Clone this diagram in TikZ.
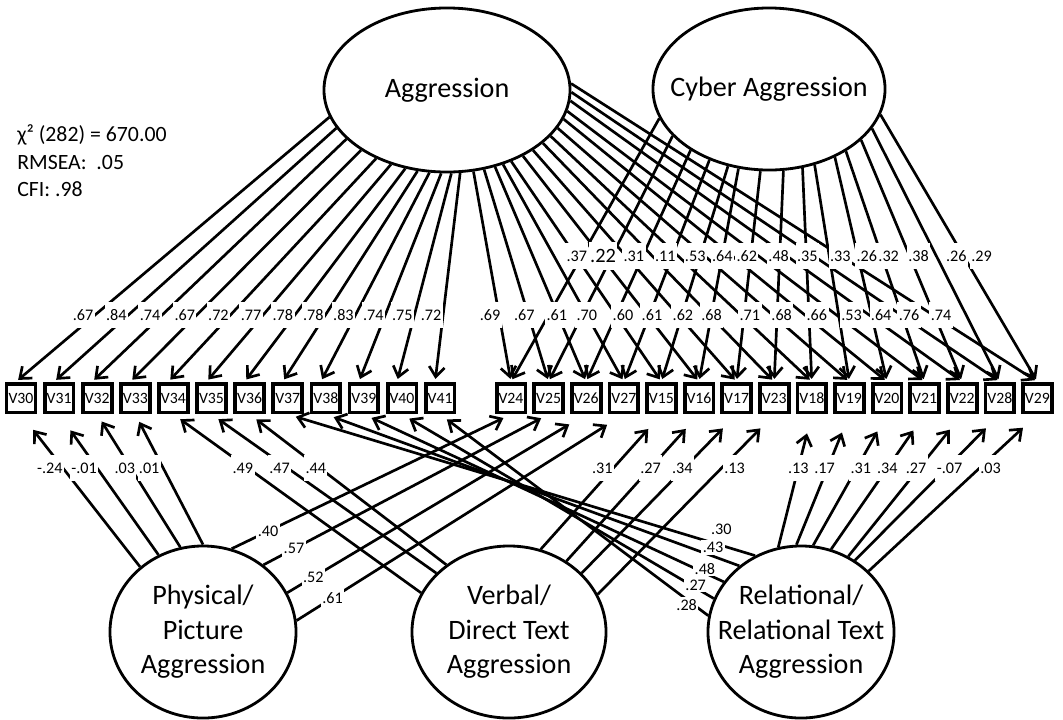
\documentclass[tikz,border=0pt]{standalone}
\usepackage{fontspec}
\setmainfont{Carlito}
\usetikzlibrary{shapes.geometric,arrows.meta,calc}
\pgfdeclarelayer{wires}
\pgfsetlayers{wires,main}

% path whose value sits where it crosses the horizontal row y=#3
\newcommand\rowlink[5]{%
  \draw[conn,#5] let \p1=(#1), \p2=(#2), \p3=(0,#3),
    \n1={((\y3)-(\y1))/((\y2)-(\y1))} in
    (\p1) -- coordinate[pos=\n1] (#4) (\p2);}
% path whose value sits at a given fraction #3 of its length
\newcommand\poslink[5]{%
  \draw[conn,#5] (#1) -- coordinate[pos=#3] (#4) (#2);}

% angle on factor / indicator / loading / horizontal offset of the value (px)
\newcommand\aggleft{193/30/.67/-12,199/31/.84/-12,206/32/.74/-12,215/33/.67/-12,224/34/.72/-12,233/35/.77/-12,242/36/.78/-12,250/37/.78/-12,258/38/.83/-12,266/39/.74/-12,273/40/.75/-12,279/41/.72/-12}
\newcommand\aggright{288/24/.69/-9,295/25/.67/-4,302/26/.61/-1,307/27/.70/0,312/15/.60/7,319/16/.61/5,325/17/.62/5,331/23/.68/2,336/18/.71/9,341/19/.68/9,346/20/.66/12,350/21/.53/15,355/22/.64/12,359/28/.76/8,3/29/.74/8}
\newcommand\cybright{195/24/.37/-5,206/25/{\fontsize{14.5}{15}\selectfont .22}/-9,218/26/.31/-9,230/27/.11/-7,242/15/.53/-5,249/16/.64/0,264/17/.62/-4,280/23/.48/-1,293/18/.35/1,301/19/.33/11,314/20/.26/9,321/21/.32/7,331/22/.38/9,339/28/.26/20,347/29/.29/18}
\newcommand\phyleft{134/30/-.24/14pt/-13,120/31/-.01/14pt/-13,105/32/.03/6pt/-6,90/33/.01/6pt/-14}
\newcommand\phyright{71/24/.40/0.13/6pt,48/25/.57/0.107/6pt,25/26/.52/0.087/14pt,7/27/.61/0.11/14pt}
\newcommand\verleft{156/34/.49/-5,141/35/.47/-8,133/36/.44/-4}
\newcommand\verright{69/15/.31/-11,51/16/.27/0,39/17/.34/-2,23/23/.13/13}
\newcommand\relleft{121/37/.30/0.081/4/-15,133/38/.43/0.073/4/-7,147/39/.48/0.066/5/-2,159/40/.27/0.074/5/0,170/41/.28/0.099/5/9}
\newcommand\relright{105/18/.13/0,93/19/.17/-3,82/20/.31/4,70/21/.34/0,58/22/.27/-3,53/28/-.07/3,42/29/.03/11}

\begin{document}
\begin{tikzpicture}[x=0.025cm,y=-0.025cm,
  latent/.style={draw,ellipse,line width=2pt,fill=white,inner sep=0pt},
  lattext/.style={align=center,inner sep=0pt,font=\fontsize{20}{24.5}\selectfont},
  obs/.style={draw,line width=2.7pt,fill=white,minimum width=0.72cm,minimum height=0.72cm,inner sep=0pt,font=\fontsize{11.2}{12}\selectfont},
  conn/.style={line width=1.9pt,-{Straight Barb[length=7pt,width=11pt]}},
  coef/.style={fill=white,inner xsep=1pt,inner ysep=5.5pt,font=\fontsize{11.5}{12}\selectfont},
  fitstat/.style={align=left,anchor=west,inner sep=0pt,font=\fontsize{15.5}{19.5}\selectfont}]
\useasboundingbox (0,0) rectangle (1063,719);

% latent factors
\node[latent,minimum width=6.15cm,minimum height=4.1cm] (agg) at (447,90) {};
\node[lattext] (aggT) at (agg) {Aggression};
\node[latent,minimum width=5.8cm,minimum height=4.05cm] (cyb) at (769,89) {};
\node[lattext] (cybT) at (cyb) {Cyber Aggression};
\node[latent,minimum width=4.65cm,minimum height=4.3cm] (phy) at (203,632) {};
\node[lattext] (phyT) at (phy) {Physical/\\Picture\\Aggression};
\node[latent,minimum width=4.85cm,minimum height=4.3cm] (ver) at (509,632) {};
\node[lattext] (verT) at (ver) {Verbal/\\Direct Text\\Aggression};
\node[latent,minimum width=4.65cm,minimum height=4.3cm] (rel) at (801,632) {};
\node[lattext] (relT) at (rel) {Relational/\\Relational Text\\Aggression};

% indicators
\foreach \n [count=\i from 0] in {30,...,41}
  \node[obs] (v\n) at ({21+38.1*\i},398) {V\n};
\foreach \n [count=\i from 0] in {24,25,26,27,15,16,17,23,18,19,20,21,22,28,29}
  \node[obs] (v\n) at ({511+37.6*\i},398) {V\n};

% fit statistics
\node[fitstat] (fit) at (17,161) {χ² (282) = 670.00\\RMSEA:\ \ .05\\CFI: .98};

% paths
\begin{pgfonlayer}{wires}
\foreach \a/\b/\v/\d [count=\i] in \aggleft {\rowlink{agg.\a}{[xshift=-0.125cm]v\b.north}{315}{ca\i}{shorten >=2pt}}
\foreach \a/\b/\v/\d [count=\i] in \aggright {\rowlink{agg.\a}{v\b.north}{315}{cb\i}{shorten >=2pt}}
\foreach \a/\b/\v/\d [count=\i] in \cybright {\rowlink{cyb.\a}{v\b.north}{256}{cc\i}{shorten >=2pt}}
\foreach \a/\b/\v/\s/\d [count=\i] in \phyleft {\rowlink{phy.\a}{v\b.south}{468}{cd\i}{shorten >=\s}}
\foreach \a/\b/\v/\p/\s [count=\i] in \phyright {\poslink{phy.\a}{v\b.south}{\p}{ce\i}{shorten >=\s}}
\foreach \a/\b/\v/\d [count=\i] in \verleft {\rowlink{ver.\a}{v\b.south}{468}{cf\i}{shorten >=6pt}}
\foreach \a/\b/\v/\d [count=\i] in \verright {\rowlink{ver.\a}{v\b.south}{468}{cg\i}{shorten >=14pt}}
\foreach \a/\b/\v/\p/\d/\e [count=\i] in \relleft {\poslink{rel.\a}{v\b.south}{\p}{ch\i}{shorten >=6pt}}
\foreach \a/\b/\v/\d [count=\i] in \relright {\rowlink{rel.\a}{v\b.south}{468}{ci\i}{shorten >=14pt}}
\end{pgfonlayer}

% loadings
\foreach \a/\b/\v/\d [count=\i] in \aggleft {\node[coef,xshift=\d*0.025cm] (la\i) at (ca\i) {\v};}
\foreach \a/\b/\v/\d [count=\i] in \aggright {\node[coef,xshift=\d*0.025cm] (lb\i) at (cb\i) {\v};}
\foreach \a/\b/\v/\d [count=\i] in \cybright {\node[coef,xshift=\d*0.025cm] (lc\i) at (cc\i) {\v};}
\foreach \a/\b/\v/\s/\d [count=\i] in \phyleft {\node[coef,xshift=\d*0.025cm] (ld\i) at (cd\i) {\v};}
\foreach \a/\b/\v/\p/\s [count=\i] in \phyright {\node[coef] (le\i) at (ce\i) {\v};}
\foreach \a/\b/\v/\d [count=\i] in \verleft {\node[coef,xshift=\d*0.025cm] (lf\i) at (cf\i) {\v};}
\foreach \a/\b/\v/\d [count=\i] in \verright {\node[coef,xshift=\d*0.025cm] (lg\i) at (cg\i) {\v};}
\foreach \a/\b/\v/\p/\d/\e [count=\i] in \relleft {\node[coef,inner ysep=1.5pt,xshift=\d*0.025cm,yshift=-\e*0.025cm] (lh\i) at (ch\i) {\v};}
\foreach \a/\b/\v/\d [count=\i] in \relright {\node[coef,xshift=\d*0.025cm] (li\i) at (ci\i) {\v};}
\end{tikzpicture}
\end{document}
